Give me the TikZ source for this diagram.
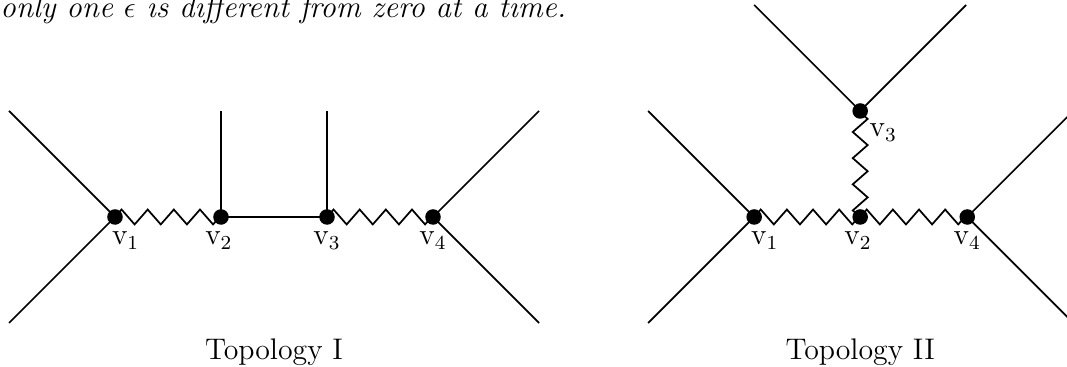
\documentclass[tikz,border=0pt]{standalone}
\usepackage{amsmath}
\usepackage{tikz}
\usetikzlibrary{calc, decorations.pathmorphing}

\begin{document}
\begin{tikzpicture}[x=1.5cm, y=1.5cm,
  vtx/.style={circle, fill=black, inner sep=0pt, minimum size=0.22cm},
  lab/.style={anchor=base, inner sep=0pt, font=\large},
  leg/.style={line width=0.7pt},
  zz/.style={line width=0.7pt, decorate, decoration={zigzag, segment length=0.37cm, amplitude=3pt}},
  topo/.style={anchor=base, inner sep=0pt, font=\large},
  note/.style={anchor=base west, inner sep=0pt, font=\fontsize{12.5}{15}\selectfont\itshape}
]
\useasboundingbox (-1.085,-1.415) rectangle (8.981,2.047);
\clip (-1.085,-1.415) rectangle (8.981,2.047);

\node[note] (remark) at (-1.085,1.885) {only one $\epsilon$ is different from zero at a time.};

% Topology I
\node[vtx] (a1) at (0,0) {};
\node[vtx] (a2) at (1,0) {};
\node[vtx] (a3) at (2,0) {};
\node[vtx] (a4) at (3,0) {};
\coordinate (a1u) at (-1,1);
\coordinate (a1d) at (-1,-1);
\coordinate (a2u) at (1,1);
\coordinate (a3u) at (2,1);
\coordinate (a4u) at (4,1);
\coordinate (a4d) at (4,-1);

\draw[leg] (a1u) -- (a1.center) -- (a1d);
\draw[leg] (a4u) -- (a4.center) -- (a4d);
\draw[leg] (a2u) -- (a2.center) -- (a3.center) -- (a3u);
\draw[zz] (a1.center) -- (a2.center);
\draw[zz] (a3.center) -- (a4.center);

\node[lab] (la1) at ($(a1)+(0.1,-0.264)$) {$\mathrm{v}_1$};
\node[lab] (la2) at ($(a2)+(-0.02,-0.264)$) {$\mathrm{v}_2$};
\node[lab] (la3) at ($(a3)+(0,-0.264)$) {$\mathrm{v}_3$};
\node[lab] (la4) at ($(a4)+(0,-0.264)$) {$\mathrm{v}_4$};
\node[topo] (ta) at (1.5,-1.34) {Topology I};

% Topology II
\node[vtx] (b1) at (6.03,0) {};
\node[vtx] (b2) at (7.03,0) {};
\node[vtx] (b4) at (8.04,0) {};
\node[vtx] (b3) at (7.03,1) {};
\coordinate (b1u) at (5.03,1);
\coordinate (b1d) at (5.03,-1);
\coordinate (b4u) at (9.04,1);
\coordinate (b4d) at (9.04,-1);
\coordinate (b3l) at (6.03,2);
\coordinate (b3r) at (8.03,2);

\draw[leg] (b1u) -- (b1.center) -- (b1d);
\draw[leg] (b4u) -- (b4.center) -- (b4d);
\draw[leg] (b3l) -- (b3.center) -- (b3r);
\draw[zz] (b1.center) -- (b2.center);
\draw[zz] (b2.center) -- (b4.center);
\draw[zz] (b2.center) -- (b3.center);

\node[lab] (lb1) at ($(b1)+(0.1,-0.264)$) {$\mathrm{v}_1$};
\node[lab] (lb2) at ($(b2)+(-0.02,-0.264)$) {$\mathrm{v}_2$};
\node[lab] (lb3) at ($(b3)+(0.217,-0.245)$) {$\mathrm{v}_3$};
\node[lab] (lb4) at ($(b4)+(0,-0.264)$) {$\mathrm{v}_4$};
\node[topo] (tb) at (7.03,-1.34) {Topology II};
\end{tikzpicture}
\end{document}
